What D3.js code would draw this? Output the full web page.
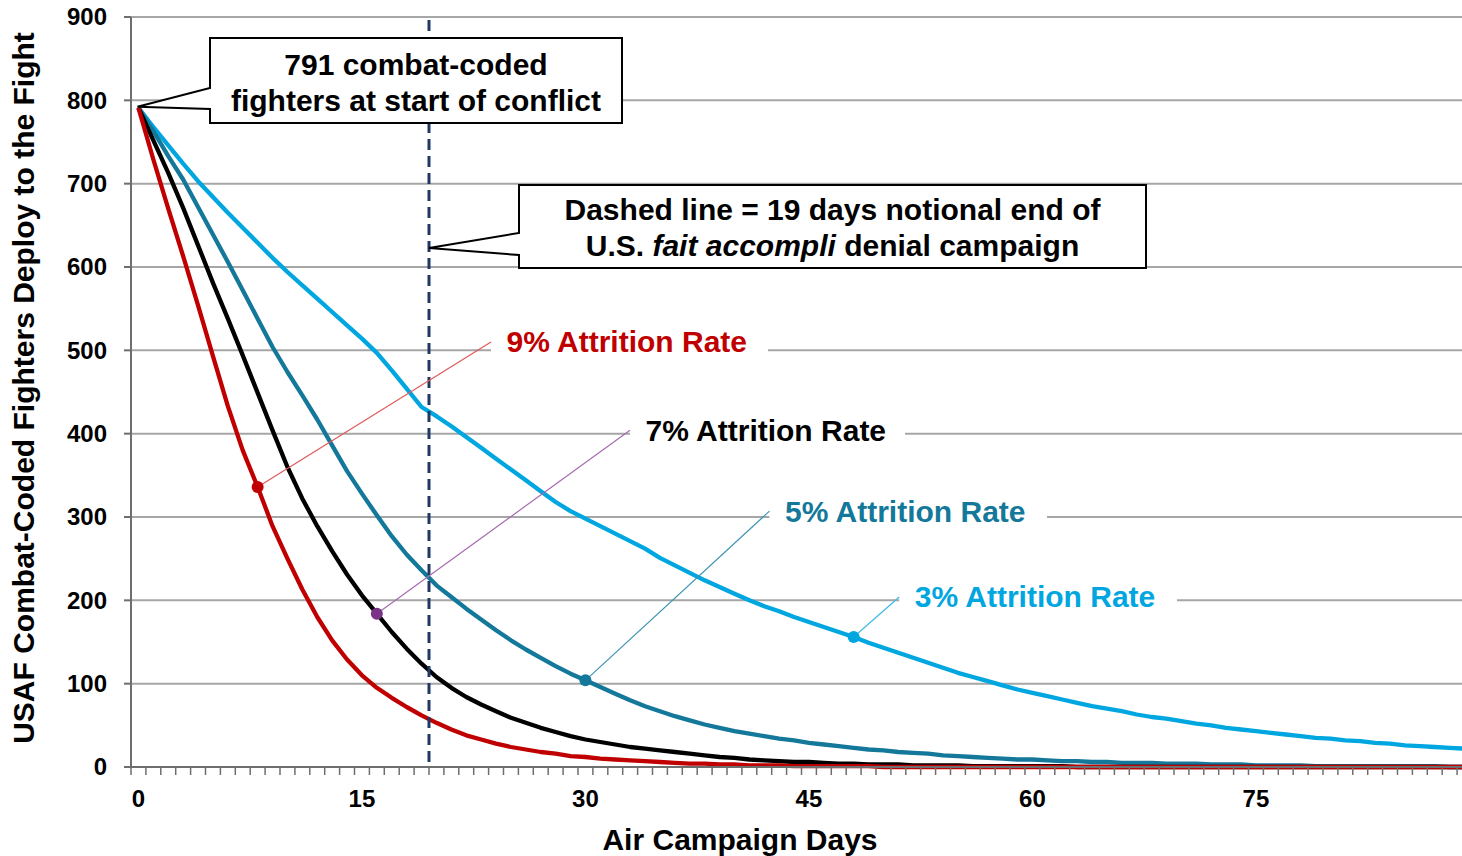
<!DOCTYPE html>
<html>
<head>
<meta charset="utf-8">
<script src="https://cdn.jsdelivr.net/npm/d3@7/dist/d3.min.js"></script>
<style>
  html, body { margin: 0; padding: 0; background: #fff; }
  svg { display: block; }
  text { font-family: 'Liberation Sans', Arial, sans-serif; font-weight: bold; }
</style>
</head>
<body>
<div id="chart"></div>
<script>
// fighters left per campaign day (day 0 .. 89)
const attrition3 = [791, 768, 746, 724, 703, 684, 665, 647, 629, 611,
  594, 578, 562, 546, 530, 514, 497, 476, 454, 432,
  421, 409, 396, 383, 370, 357, 344, 331, 318, 307,
  298, 289, 280, 271, 262, 251, 242, 233, 224, 216,
  208, 200, 193, 187, 180, 174, 168, 162, 156, 149,
  143, 137, 131, 125, 119, 113, 108, 103, 98, 93,
  89, 85, 81, 77, 73, 70, 67, 63, 60, 58,
  55, 52, 50, 47, 45, 43, 41, 39, 37, 35,
  34, 32, 31, 29, 28, 26, 25, 24, 23, 22];

const attrition5 = [791, 763, 733, 705, 672, 639, 606, 572, 538, 504,
  474, 446, 417, 386, 355, 328, 302, 277, 255, 236,
  218, 204, 190, 177, 164, 152, 141, 131, 121, 112,
  104, 96, 88, 80, 73, 67, 61, 56, 51, 47,
  43, 40, 37, 34, 32, 29, 27, 25, 23, 21,
  20, 18, 17, 16, 14, 13, 12, 11, 10, 9,
  9, 8, 7, 7, 6, 6, 5, 5, 5, 4,
  4, 4, 3, 3, 3, 2, 2, 2, 2, 1,
  1, 1, 1, 1, 1, 1, 1, 1, 0, 0];

const attrition7 = [791, 752, 713, 671, 626, 581, 538, 494, 449, 404,
  360, 322, 289, 259, 231, 206, 184, 162, 142, 124,
  108, 95, 84, 75, 67, 59, 53, 47, 42, 37,
  33, 30, 27, 24, 22, 20, 18, 16, 14, 12,
  11, 9, 8, 7, 6, 6, 5, 4, 4, 3,
  3, 3, 2, 2, 2, 2, 1, 1, 1, 1,
  1, 1, 1, 0, 0, 0, 0, 0, 0, 0,
  0, 0, 0, 0, 0, 0, 0, 0, 0, 0,
  0, 0, 0, 0, 0, 0, 0, 0, 0, 0];

const attrition9 = [791, 729, 670, 613, 554, 493, 433, 380, 336, 289,
  250, 213, 180, 152, 129, 110, 95, 83, 72, 62,
  53, 45, 38, 33, 28, 24, 21, 18, 16, 13,
  12, 10, 9, 8, 7, 6, 5, 4, 4, 3,
  3, 2, 2, 2, 1, 1, 1, 1, 1, 1,
  0, 0, 0, 0, 0, 0, 0, 0, 0, 0,
  0, 0, 0, 0, 0, 0, 0, 0, 0, 0,
  0, 0, 0, 0, 0, 0, 0, 0, 0, 0,
  0, 0, 0, 0, 0, 0, 0, 0, 0, 0];

const yTicks = [0, 100, 200, 300, 400, 500, 600, 700, 800, 900];
const xTickLabels = [0, 15, 30, 45, 60, 75];
const campaignEndDay = 19;
const dayCount = 89.33; // visible width of the category axis

const colors = {
  red: '#C00000',
  black: '#000000',
  teal: '#13789A',
  sky: '#00A6E0',
  purple: '#7B3387',
  navy: '#1F3864',
  grid: '#A6A6A6',
  axis: '#6E6E6E'
};

// callout labels for each curve, in chart units (day, fighters)
const seriesList = [
  { name: '9% Attrition Rate', values: attrition9, color: colors.red, dotDay: 8,
    dotColor: colors.red, leaderColor: '#E05A5A',
    lead: [24.16, 510], base: 498, gapEnd: 42.75 },
  { name: '7% Attrition Rate', values: attrition7, color: colors.black, dotDay: 16,
    dotColor: colors.purple, leaderColor: '#A66BB0',
    lead: [33.49, 404], base: 391.6, gapEnd: 51.95 },
  { name: '5% Attrition Rate', values: attrition5, color: colors.teal, dotDay: 30,
    dotColor: colors.teal, leaderColor: '#3E93B2',
    lead: [42.85, 307], base: 294.4, gapEnd: 61.48 },
  { name: '3% Attrition Rate', values: attrition3, color: colors.sky, dotDay: 48,
    dotColor: colors.sky, leaderColor: '#3FB9E8',
    lead: [51.56, 204], base: 192.4, gapEnd: 70.2 }
];

const width = 1462, height = 856;
const plot = { left: 131, right: 1462, top: 17, bottom: 767 };

const x = d3.scaleLinear().domain([0, dayCount]).range([plot.left, plot.right]);
const y = d3.scaleLinear().domain([0, 900]).range([plot.bottom, plot.top]);

const svg = d3.select('#chart').append('svg')
  .attr('width', width)
  .attr('height', height);

svg.append('clipPath').attr('id', 'plot-clip')
  .append('rect')
  .attr('x', plot.left).attr('y', plot.top - 5)
  .attr('width', plot.right - plot.left).attr('height', plot.bottom - plot.top + 10);

// gridlines
svg.append('g').selectAll('line')
  .data(yTicks.filter(d => d > 0))
  .enter().append('line')
  .attr('x1', plot.left).attr('x2', plot.right)
  .attr('y1', d => y(d)).attr('y2', d => y(d))
  .attr('stroke', colors.grid)
  .attr('stroke-width', 2);

// white gaps behind the curve labels
svg.append('g').selectAll('rect')
  .data(seriesList)
  .enter().append('rect')
  .attr('x', d => x(d.lead[0]))
  .attr('y', d => y(d.base) - 24)
  .attr('width', d => x(d.gapEnd) - x(d.lead[0]))
  .attr('height', 30)
  .attr('fill', '#fff');

// curves
const line = d3.line()
  .x((d, i) => x(i + 0.5))
  .y(d => y(d));

const curves = svg.append('g').attr('clip-path', 'url(#plot-clip)');
curves.selectAll('path')
  .data(seriesList.slice().reverse())
  .enter().append('path')
  .attr('d', d => line(d.values))
  .attr('fill', 'none')
  .attr('stroke', d => d.color)
  .attr('stroke-width', 4.3)
  .attr('stroke-linejoin', 'round');

// dashed campaign end marker (sits on the tick after day 19)
svg.append('line')
  .attr('x1', x(campaignEndDay + 1)).attr('x2', x(campaignEndDay + 1))
  .attr('y1', plot.top + 3).attr('y2', plot.bottom)
  .attr('stroke', colors.navy)
  .attr('stroke-width', 3)
  .attr('stroke-dasharray', '11,6');

// leader lines + dots
svg.append('g').selectAll('line')
  .data(seriesList)
  .enter().append('line')
  .attr('x1', d => x(d.dotDay + 0.5))
  .attr('y1', d => y(d.values[d.dotDay]))
  .attr('x2', d => x(d.lead[0]))
  .attr('y2', d => y(d.lead[1]))
  .attr('stroke', d => d.leaderColor)
  .attr('stroke-width', 1.2);

svg.append('g').selectAll('circle')
  .data(seriesList)
  .enter().append('circle')
  .attr('cx', d => x(d.dotDay + 0.5))
  .attr('cy', d => y(d.values[d.dotDay]))
  .attr('r', 6)
  .attr('fill', d => d.dotColor);

svg.append('g').selectAll('text')
  .data(seriesList)
  .enter().append('text')
  .attr('x', d => x(d.lead[0]) + 15.5)
  .attr('y', d => y(d.base))
  .attr('fill', d => d.color)
  .style('font-size', '30px')
  .text(d => d.name);

// axes
const axisG = svg.append('g');
axisG.append('line')
  .attr('x1', plot.left).attr('x2', plot.left)
  .attr('y1', plot.top).attr('y2', plot.bottom)
  .attr('stroke', colors.axis).attr('stroke-width', 2);
axisG.append('line')
  .attr('x1', plot.left - 7).attr('x2', plot.right)
  .attr('y1', plot.bottom).attr('y2', plot.bottom)
  .attr('stroke', colors.axis).attr('stroke-width', 2);

axisG.selectAll('.ytick')
  .data(yTicks)
  .enter().append('line')
  .attr('x1', plot.left - 7).attr('x2', plot.left)
  .attr('y1', d => y(d)).attr('y2', d => y(d))
  .attr('stroke', colors.axis).attr('stroke-width', 2);

axisG.selectAll('.ylabel')
  .data(yTicks)
  .enter().append('text')
  .attr('x', 107)
  .attr('y', d => y(d))
  .attr('dy', '0.35em')
  .attr('text-anchor', 'end')
  .style('font-size', '24px')
  .text(d => d);

axisG.selectAll('.xtick')
  .data(d3.range(0, Math.floor(dayCount) + 1))
  .enter().append('line')
  .attr('x1', d => x(d)).attr('x2', d => x(d))
  .attr('y1', plot.bottom).attr('y2', plot.bottom + 8)
  .attr('stroke', colors.axis).attr('stroke-width', 1.5);

axisG.selectAll('.xlabel')
  .data(xTickLabels)
  .enter().append('text')
  .attr('x', d => x(d + 0.5))
  .attr('y', 807)
  .attr('text-anchor', 'middle')
  .style('font-size', '24px')
  .text(d => d);

svg.append('text')
  .attr('x', 740).attr('y', 850)
  .attr('text-anchor', 'middle')
  .style('font-size', '30px')
  .text('Air Campaign Days');

svg.append('text')
  .attr('transform', 'translate(34,388) rotate(-90)')
  .attr('text-anchor', 'middle')
  .style('font-size', '30px')
  .text('USAF Combat-Coded Fighters Deploy to the Fight');

// callout boxes
function callout(box, tip, pinTop, pinBottom) {
  const p = d3.path();
  p.moveTo(box.x0, box.y0);
  p.lineTo(box.x1, box.y0);
  p.lineTo(box.x1, box.y1);
  p.lineTo(box.x0, box.y1);
  p.lineTo(box.x0, pinBottom);
  p.lineTo(tip[0], tip[1]);
  p.lineTo(box.x0, pinTop);
  p.closePath();
  return svg.append('path')
    .attr('d', p.toString())
    .attr('fill', '#fff')
    .attr('stroke', '#000')
    .attr('stroke-width', 2)
    .attr('stroke-linejoin', 'miter');
}

callout({ x0: 210, y0: 38, x1: 622, y1: 123 },
  [x(0.5) - 1, y(attrition3[0]) - 1], 88, 109);
const c1 = svg.append('text').attr('text-anchor', 'middle').style('font-size', '30px');
c1.append('tspan').attr('x', 416).attr('y', 75).text('791 combat-coded');
c1.append('tspan').attr('x', 416).attr('y', 111).text('fighters at start of conflict');

callout({ x0: 519, y0: 185, x1: 1146, y1: 268 },
  [x(campaignEndDay + 1), 248], 233, 255);
const c2 = svg.append('text').attr('text-anchor', 'middle').style('font-size', '30px');
c2.append('tspan').attr('x', 832.5).attr('y', 220).text('Dashed line = 19 days notional end of');
const l2 = c2.append('tspan').attr('x', 832.5).attr('y', 256);
l2.append('tspan').text('U.S. ');
l2.append('tspan').style('font-style', 'italic').text('fait accompli');
l2.append('tspan').text(' denial campaign');
</script>
</body>
</html>
